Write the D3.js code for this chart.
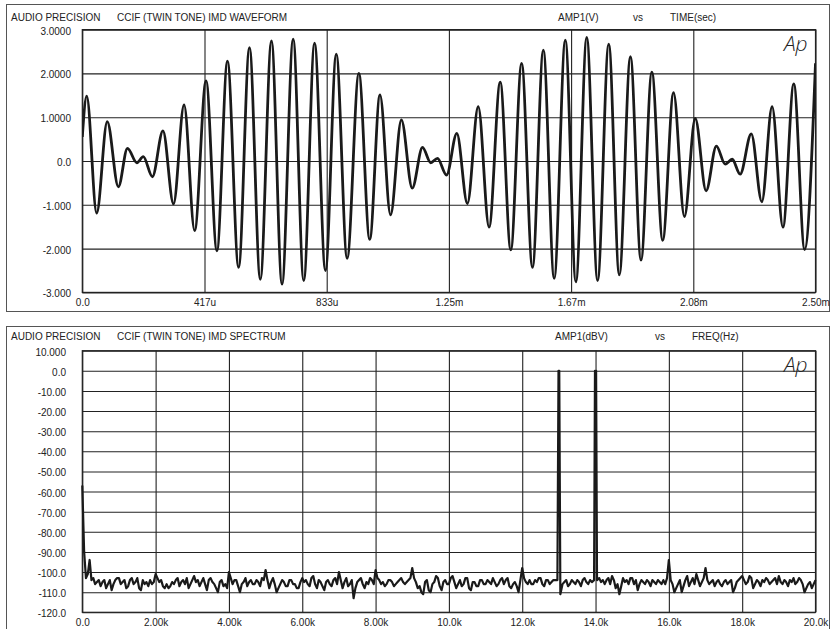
<!DOCTYPE html>
<html>
<head>
<meta charset="utf-8">
<script src="https://cdn.jsdelivr.net/npm/d3@7"></script>
<style>
  body { margin: 0; background: #fff; }
  text { font-family: "Liberation Sans", Arial, sans-serif; font-size: 10px; fill: #222; }
</style>
</head>
<body>
<div id="chart"></div>
<script>
// waveform: extrema (time in ms, volts)
const waveTime = [0, 0.015, 0.049, 0.085, 0.123, 0.154, 0.186, 0.208, 0.239, 0.275, 0.311, 0.347, 0.383,
    0.422, 0.459, 0.495, 0.533, 0.570, 0.607, 0.645, 0.681, 0.719, 0.755, 0.792, 0.829, 0.866, 0.903,
    0.943, 0.980, 1.015, 1.051, 1.088, 1.125, 1.160, 1.188, 1.211, 1.242, 1.277, 1.313, 1.350, 1.387,
    1.425, 1.461, 1.498, 1.535, 1.572, 1.609, 1.647, 1.683, 1.720, 1.757, 1.795, 1.831, 1.869, 1.905,
    1.942, 1.979, 2.016, 2.053, 2.090, 2.127, 2.162, 2.192, 2.216, 2.243, 2.281, 2.317, 2.352, 2.389,
    2.426, 2.463, 2.500];
const waveVolts = [0.55, 1.48, -1.19, 0.90, -0.59, 0.29, -0.04, 0.10, -0.36, 0.69, -0.98, 1.28, -1.59,
    1.83, -2.05, 2.28, -2.43, 2.59, -2.70, 2.74, -2.81, 2.78, -2.73, 2.69, -2.50, 2.44, -2.22,
    2.00, -1.79, 1.51, -1.23, 0.94, -0.62, 0.31, -0.04, 0.06, -0.32, 0.63, -0.97, 1.24, -1.51,
    1.80, -2.03, 2.23, -2.43, 2.53, -2.68, 2.76, -2.76, 2.82, -2.73, 2.67, -2.60, 2.38, -2.26,
    2.03, -1.81, 1.56, -1.27, 0.97, -0.68, 0.34, -0.07, 0.04, -0.30, 0.62, -0.93, 1.24, -1.51,
    1.76, -2.02, 2.23];

// spectrum: one value per 50 Hz bin, 0 .. 20 kHz (dBV), one row per kHz
const binStep = 50;
const spectrumDb = [
    -57, -90, -103, -101, -94, -104, -103, -106, -105, -104, -107, -105, -104, -108, -106, -104, -109, -106, -104, -103,
    -103, -106, -105, -104, -108, -107, -104, -103, -106, -105, -103, -108, -109, -104, -106, -105, -107, -104, -106, -105,
    -101, -103, -105, -104, -107, -108, -106, -108, -107, -105, -106, -104, -103, -107, -105, -104, -106, -103, -108, -106,
    -104, -102, -105, -104, -107, -105, -103, -106, -109, -104, -103, -105, -106, -108, -110, -105, -104, -107, -106, -108,
    -100, -103, -106, -104, -104, -107, -110, -106, -105, -103, -107, -105, -104, -106, -106, -104, -105, -107, -103, -104,
    -99, -104, -108, -105, -103, -106, -110, -108, -106, -104, -105, -107, -107, -104, -104, -106, -106, -108, -108, -105,
    -103, -105, -104, -106, -107, -103, -102, -106, -108, -104, -105, -107, -109, -105, -104, -106, -107, -104, -103, -106,
    -100, -104, -108, -105, -103, -107, -106, -104, -113, -108, -105, -104, -103, -106, -108, -105, -106, -103, -104, -106,
    -99, -103, -104, -106, -105, -107, -106, -104, -104, -105, -107, -106, -105, -104, -103, -105, -106, -105, -104, -103,
    -98, -103, -105, -108, -107, -110, -111, -105, -104, -109, -110, -106, -105, -102, -103, -107, -109, -105, -104, -106,
    -106, -103, -102, -105, -108, -106, -104, -107, -106, -103, -103, -108, -109, -105, -105, -107, -107, -104, -104, -106,
    -106, -104, -105, -106, -103, -105, -107, -106, -104, -103, -106, -104, -103, -107, -108, -106, -105, -107, -110, -104,
    -98, -103, -105, -106, -104, -106, -106, -104, -105, -103, -103, -106, -107, -104, -104, -106, -105, -104, -104, -104,
    -104, -111, -106, -105, -104, -107, -106, -104, -105, -106, -104, -105, -107, -104, -103, -105, -106, -104, -105, -103,
    -104, -104, -103, -105, -104, -106, -104, -103, -106, -102, -104, -108, -106, -111, -107, -103, -105, -104, -106, -103,
    -103, -106, -104, -109, -106, -104, -105, -106, -104, -105, -107, -104, -105, -106, -104, -105, -106, -104, -106, -103,
    -94, -104, -106, -110, -108, -106, -104, -110, -107, -104, -102, -107, -105, -103, -106, -101, -104, -107, -105, -103,
    -98, -104, -106, -105, -104, -107, -105, -104, -106, -107, -105, -104, -106, -105, -104, -110, -108, -105, -104, -103,
    -102, -104, -106, -105, -102, -103, -108, -106, -104, -105, -107, -104, -105, -103, -104, -106, -105, -104, -103, -106,
    -102, -105, -106, -104, -105, -107, -104, -105, -103, -106, -105, -103, -104, -106, -110, -108, -106, -105, -108, -106,
    -104];
// the two test tones, drawn with finer points
const toneFreq = [12960, 12990, 13010, 13040, 13960, 13985, 14000, 14015, 14040];
const toneDb = [-104, 0, 0, -111, -104, 0, -60, 0, -104];

const timeTicks = ["0.0", "417u", "833u", "1.25m", "1.67m", "2.08m", "2.50m"];
const voltTicks = ["-3.000", "-2.000", "-1.000", "0.0", "1.0000", "2.0000", "3.0000"];
const freqTicks = ["0.0", "2.00k", "4.00k", "6.00k", "8.00k", "10.0k", "12.0k", "14.0k", "16.0k", "18.0k", "20.0k"];
const dbTicks = ["-120.0", "-110.0", "-100.0", "-90.00", "-80.00", "-70.00", "-60.00", "-50.00", "-40.00",
    "-30.00", "-20.00", "-10.00", "0.0", "10.000"];

const width = 835, height = 629;
const left = 82.3, right = 815.5;

const svg = d3.select("#chart").append("svg")
    .attr("width", width)
    .attr("height", height);

// outer frames
svg.append("rect").attr("x", 6.5).attr("y", 4.5).attr("width", 823).attr("height", 307)
    .attr("fill", "none").attr("stroke", "#555");
svg.append("rect").attr("x", 6.5).attr("y", 326.5).attr("width", 823).attr("height", 320)
    .attr("fill", "none").attr("stroke", "#555");

function header(y, name, yName, xName, vsX, xNameX, yNameX) {
    svg.append("text").attr("x", 11).attr("y", y).text("AUDIO PRECISION");
    svg.append("text").attr("x", 117).attr("y", y).text(name);
    svg.append("text").attr("x", yNameX).attr("y", y).text(yName);
    svg.append("text").attr("x", vsX).attr("y", y).text("vs");
    svg.append("text").attr("x", xNameX).attr("y", y).text(xName);
}

function panel(x, y, xLabels, yLabels, labelPad, top, bottom) {
    const w = right - left;
    const xVals = d3.range(xLabels.length).map(i => x.domain()[0] + i * (x.domain()[1] - x.domain()[0]) / (xLabels.length - 1));
    const yVals = d3.range(yLabels.length).map(i => y.domain()[0] + i * (y.domain()[1] - y.domain()[0]) / (yLabels.length - 1));

    // grid
    svg.append("g")
        .attr("transform", `translate(0,${bottom})`)
        .call(d3.axisBottom(x).tickValues(xVals).tickSize(-(bottom - top)).tickFormat(""))
        .call(g => g.select(".domain").remove())
        .selectAll("line").attr("stroke", "#222").attr("stroke-width", 1.1);
    svg.append("g")
        .attr("transform", `translate(${left},0)`)
        .call(d3.axisLeft(y).tickValues(yVals).tickSize(-w).tickFormat(""))
        .call(g => g.select(".domain").remove())
        .selectAll("line").attr("stroke", "#222").attr("stroke-width", 1.1);

    // labels
    const xa = svg.append("g")
        .attr("transform", `translate(0,${bottom})`)
        .call(d3.axisBottom(x).tickValues(xVals).tickSize(0).tickPadding(7).tickFormat((d, i) => xLabels[i]));
    const ya = svg.append("g")
        .attr("transform", `translate(${left},0)`)
        .call(d3.axisLeft(y).tickValues(yVals).tickSize(0).tickPadding(labelPad).tickFormat((d, i) => yLabels[i]));
    [xa, ya].forEach(g => {
        g.select(".domain").remove();
        g.selectAll("text").attr("font-size", 10).attr("font-family", null).attr("fill", "#222");
    });
    ya.selectAll("text").attr("dy", "0.45em");

    svg.append("rect").attr("x", left).attr("y", top).attr("width", w).attr("height", bottom - top)
        .attr("fill", "none").attr("stroke", "#222").attr("stroke-width", 1.2);

    svg.append("text").attr("x", right - 8).attr("y", top + 21)
        .attr("text-anchor", "end")
        .style("font-family", "'Open Sans', 'DejaVu Sans', sans-serif")
        .style("font-style", "italic").style("font-weight", 300).style("font-size", "21px")
        .text("Ap");
}

// ---- top: waveform
const topY0 = 29.6, topY1 = 292.4;
const xT = d3.scaleLinear().domain([0, 2.5]).range([left, right]);
const yT = d3.scaleLinear().domain([-3, 3]).range([topY1, topY0]);
header(20.5, "CCIF (TWIN TONE) IMD WAVEFORM", "AMP1(V)", "TIME(sec)", 633, 670, 558);
panel(xT, yT, timeTicks, voltTicks, 11.3, topY0, topY1);

svg.append("clipPath").attr("id", "clipT").append("rect")
    .attr("x", left).attr("y", topY0).attr("width", right - left).attr("height", topY1 - topY0);
const wave = waveTime.map((t, i) => [t, waveVolts[i]]);
svg.append("path")
    .datum(wave)
    .attr("clip-path", "url(#clipT)")
    .attr("fill", "none")
    .attr("stroke", "#1a1a1a")
    .attr("stroke-width", 2.8)
    .attr("d", d3.line().x(d => xT(d[0])).y(d => yT(d[1])).curve(d3.curveMonotoneX));

// ---- bottom: spectrum
const botY0 = 350.7, botY1 = 612.3;
const xB = d3.scaleLinear().domain([0, 20000]).range([left, right]);
const yB = d3.scaleLinear().domain([-120, 10]).range([botY1, botY0]);
header(340, "CCIF (TWIN TONE) IMD SPECTRUM", "AMP1(dBV)", "FREQ(Hz)", 655, 692, 555);
panel(xB, yB, freqTicks, dbTicks, 16.3, botY0, botY1);

let spec = spectrumDb.map((db, i) => [i * binStep, db])
    .filter(d => !toneFreq.some(f => Math.abs(d[0] - f) < 45));
spec = spec.concat(toneFreq.map((f, i) => [f, toneDb[i]])).sort((a, b) => a[0] - b[0]);

svg.append("path")
    .datum(spec)
    .attr("fill", "none")
    .attr("stroke", "#1a1a1a")
    .attr("stroke-width", 2.2)
    .attr("stroke-linejoin", "round")
    .attr("d", d3.line().x(d => xB(d[0])).y(d => yB(d[1])));
</script>
</body>
</html>
